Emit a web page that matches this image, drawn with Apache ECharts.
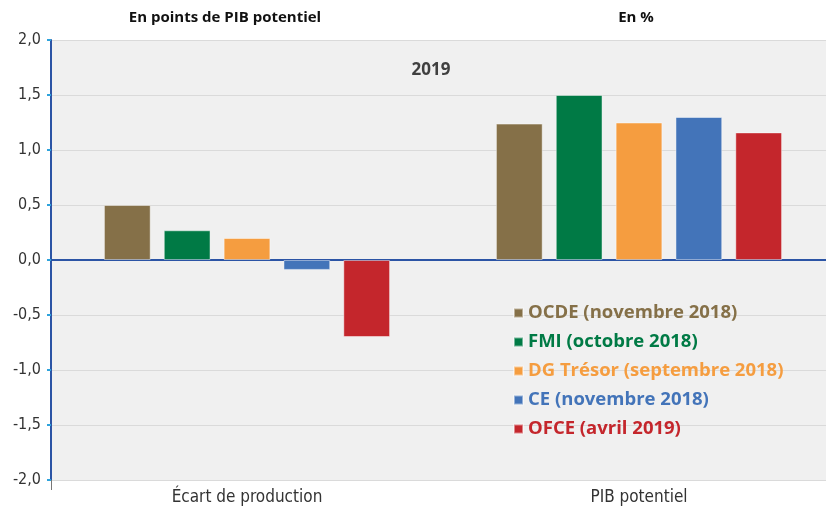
<!DOCTYPE html>
<html>
<head>
<meta charset="utf-8">
<script src="https://cdn.jsdelivr.net/npm/echarts@6/dist/echarts.min.js"></script>
<style>
  html, body { margin: 0; padding: 0; background: #fff; }
  #chart { width: 826px; height: 511px; }
</style>
</head>
<body>
<div id="chart"></div>
<script>
// catégories de l'axe x
var categories = ['Écart de production', 'PIB potentiel'];
// noms des séries (légende)
var seriesNames = ['OCDE (novembre 2018)', 'FMI (octobre 2018)', 'DG Trésor (septembre 2018)', 'CE (novembre 2018)', 'OFCE (avril 2019)'];
// valeurs : [écart de production, PIB potentiel]
var ocde = [0.5, 1.24];
var fmi = [0.27, 1.5];
var dgTresor = [0.2, 1.25];
var ce = [-0.09, 1.3];
var ofce = [-0.7, 1.16];
var seriesValues = [ocde, fmi, dgTresor, ce, ofce];
var colors = ['#857048', '#007a45', '#f59d40', '#4374b9', '#c4262c'];

var myChart = echarts.init(document.getElementById('chart'));

var axisFont = '"DejaVu Sans Condensed", "DejaVu Sans", sans-serif';
var textFont = '"Open Sans", "Noto Sans", sans-serif';

var series = seriesNames.map(function (name, i) {
    return {
        name: name,
        type: 'bar',
        xAxisIndex: 0,
        data: seriesValues[i],
        barGap: '28%',
        barCategoryGap: '27%',
        itemStyle: {
            color: colors[i],
            borderColor: 'rgba(255,255,255,0.45)',
            borderWidth: 1
        }
    };
});

var option = {
    animation: false,
    title: [
        {
            text: 'En points de PIB potentiel',
            left: 220, top: 5, textAlign: 'center',
            textStyle: { fontFamily: textFont, fontSize: 15, fontWeight: 'bold', color: '#111' }
        },
        {
            text: 'En %',
            left: 631, top: 5, textAlign: 'center',
            textStyle: { fontFamily: textFont, fontSize: 15, fontWeight: 'bold', color: '#111' }
        },
        {
            text: '2019',
            left: 426, top: 57, textAlign: 'center',
            textStyle: { fontFamily: textFont, fontSize: 17, fontWeight: 'bold', color: '#404040' }
        }
    ],
    legend: {
        orient: 'vertical',
        left: 508,
        top: 298,
        icon: 'rect',
        itemWidth: 9,
        itemHeight: 9,
        itemGap: 9,
        textStyle: { fontFamily: textFont, fontSize: 18.5, fontWeight: 'bold', lineHeight: 20 },
        data: seriesNames.map(function (n, i) {
            return { name: n, textStyle: { color: colors[i] } };
        })
    },
    grid: {
        left: 51, right: -9, top: 40, bottom: 31,
        show: true, backgroundColor: '#f0f0f0', borderWidth: 0,
        containLabel: false, outerBoundsMode: 'none'
    },
    xAxis: [
        {
            // ligne du zéro
            type: 'category',
            data: categories,
            position: 'bottom',
            axisLine: { onZero: true, lineStyle: { color: '#2b54a5', width: 2 } },
            axisTick: { show: false },
            axisLabel: { show: false }
        },
        {
            // étiquettes en bas
            type: 'category',
            data: categories,
            position: 'bottom',
            axisLine: { show: false, onZero: false },
            axisTick: {
                show: true, length: 10, lineStyle: { color: '#777' },
                interval: function (index) { return index === 1; }
            },
            axisLabel: { fontFamily: axisFont, fontSize: 17, color: '#333', margin: 9, interval: 0 },
            splitLine: { show: false }
        }
    ],
    yAxis: {
        type: 'value',
        min: -2,
        max: 2,
        interval: 0.5,
        axisLine: { show: true, onZero: false, lineStyle: { color: '#2b54a5', width: 2 } },
        axisTick: { show: true, length: 4, lineStyle: { color: '#2ea3dc', width: 2 } },
        axisLabel: {
            fontFamily: axisFont, fontSize: 16, color: '#333', margin: 10,
            formatter: function (v) { return v.toFixed(1).replace('.', ','); }
        },
        splitLine: { lineStyle: { color: '#dadada', width: 1 } }
    },
    series: series
};

myChart.setOption(option);

window.addEventListener('resize', function () {
    myChart.resize();
});
</script>
</body>
</html>
